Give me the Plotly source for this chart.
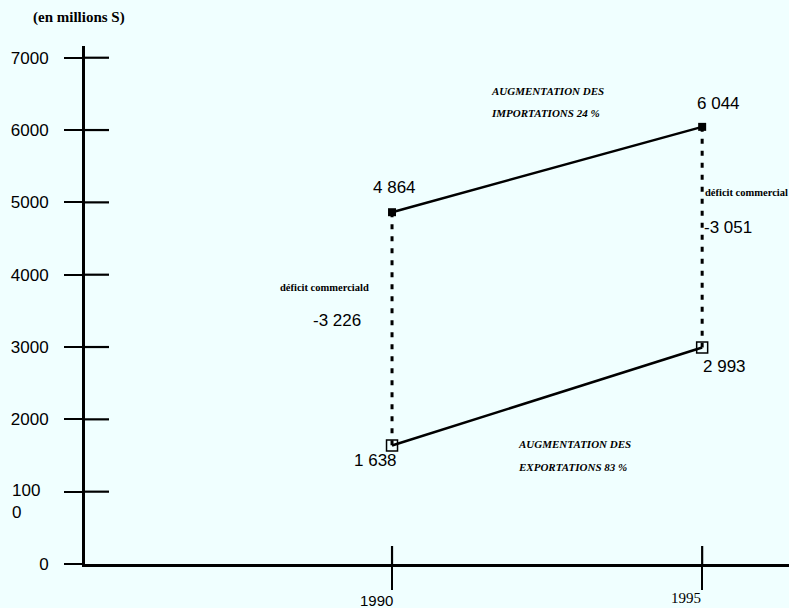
import plotly.graph_objects as go

# ---- data ----
years = [1990, 1995]
imports = [4864, 6044]
exports = [1638, 2993]
y_tick_vals = [0, 1000, 2000, 3000, 4000, 5000, 6000, 7000]
y_tick_text = ["0", "100<br>0", "2000", "3000", "4000", "5000", "6000", "7000"]
x_tick_vals = [1990, 1995]
x_tick_text = ["1990", "1995"]
import_note = ["AUGMENTATION DES", "IMPORTATIONS 24 %"]
export_note = ["AUGMENTATION DES", "EXPORTATIONS 83 %"]
unit_label = "(en millions S)"
deficit_labels = ["déficit commerciald", "déficit commercial"]


def fmt(v):
    s = f"{abs(v):,}".replace(",", " ")
    return ("-" if v < 0 else "") + s


BG = "#F0FFFF"
SANS = "Liberation Sans"
SERIF = "Liberation Serif"

fig = go.Figure()

# deficit connectors (dotted)
for yr, imp, exp in zip(years, imports, exports):
    fig.add_trace(go.Scatter(
        x=[yr, yr], y=[imp, exp], mode="lines",
        line=dict(color="black", width=3, dash="5px,7px"),
        hoverinfo="skip"))

# imports
fig.add_trace(go.Scatter(
    x=years, y=imports, mode="lines+markers",
    line=dict(color="black", width=2.5),
    marker=dict(symbol="square", size=8, color="black")))

# exports
fig.add_trace(go.Scatter(
    x=years, y=exports, mode="lines+markers",
    line=dict(color="black", width=2.5),
    marker=dict(symbol="square-open", size=11, color="black",
                line=dict(width=1.5, color="black"))))

# crossing ticks (inside part)
shapes = []
for v in y_tick_vals[1:]:
    shapes.append(dict(type="line", xref="paper", yref="y", x0=0, x1=24 / 704,
                       y0=v, y1=v, line=dict(color="black", width=2.2)))
for v in x_tick_vals:
    shapes.append(dict(type="line", xref="x", yref="paper", x0=v, x1=v,
                       y0=0, y1=18 / 518, line=dict(color="black", width=2.2)))

annotations = []
# x tick labels (mixed fonts as in the scanned original)
for v, t, fam, dy in zip(x_tick_vals, x_tick_text, [SANS, SERIF], [-36, -34]):
    annotations.append(dict(x=v, y=0, xref="x", yref="paper", text=t, showarrow=False,
                            xshift=-16, yshift=dy, yanchor="middle",
                            font=dict(family=fam, size=15, color="black")))

# value labels
val_shift = [(2, 25), (16, 23)]
for yr, v, (dx, dy) in zip(years, imports, val_shift):
    annotations.append(dict(x=yr, y=v, xref="x", yref="y", text=fmt(v), showarrow=False,
                            xshift=dx, yshift=dy, font=dict(family=SANS, size=17, color="black")))
exp_shift = [(-17, -15), (22, -19)]
for yr, v, (dx, dy) in zip(years, exports, exp_shift):
    annotations.append(dict(x=yr, y=v, xref="x", yref="y", text=fmt(v), showarrow=False,
                            xshift=dx, yshift=dy, font=dict(family=SANS, size=17, color="black")))

# deficits
deficits = [e - i for i, e in zip(imports, exports)]
annotations.append(dict(x=years[0], y=3360, xref="x", yref="y", text=fmt(deficits[0]),
                        showarrow=False, xshift=-55, font=dict(family=SANS, size=17, color="black")))
annotations.append(dict(x=years[1], y=4655, xref="x", yref="y", text=fmt(deficits[1]),
                        showarrow=False, xanchor="left", xshift=0,
                        font=dict(family=SANS, size=17, color="black")))
annotations.append(dict(x=years[0], y=3826, xref="x", yref="y", text="<b>" + deficit_labels[0] + "</b>",
                        showarrow=False, xshift=-68, font=dict(family=SERIF, size=10.5, color="black")))
annotations.append(dict(x=years[1], y=5138, xref="x", yref="y", text="<b>" + deficit_labels[1] + "</b>",
                        showarrow=False, xanchor="left", xshift=1,
                        font=dict(family=SERIF, size=10.5, color="black")))

# growth notes
for txt, yv in zip(import_note, [6540, 6235]):
    annotations.append(dict(x=1991.57, y=yv, xref="x", yref="y", text="<b><i>" + txt + "</i></b>",
                            showarrow=False, xanchor="left",
                            font=dict(family=SERIF, size=11, color="black")))
for txt, yv in zip(export_note, [1658, 1340]):
    annotations.append(dict(x=1992.0, y=yv, xref="x", yref="y", text="<b><i>" + txt + "</i></b>",
                            showarrow=False, xanchor="left",
                            font=dict(family=SERIF, size=11, color="black")))

# unit label
annotations.append(dict(x=(31 - 85) / 704, y=1 + (46 - 17) / 518, xref="paper", yref="paper",
                        text="<b>" + unit_label + "</b>",
                        showarrow=False, xanchor="left", yanchor="middle",
                        font=dict(family=SERIF, size=15, color="black")))

# split tick label for 1000
annotations.append(dict(x=(10 - 85) / 704, y=y_tick_vals[1], xref="paper", yref="y",
                        text=y_tick_text[1], showarrow=False, xanchor="left", align="left",
                        yanchor="middle", yshift=-10,
                        font=dict(family=SANS, size=17, color="black")))
shown_y_text = [t if "<br>" not in t else "" for t in y_tick_text]

fig.update_layout(
    template="none",
    width=789, height=608,
    margin=dict(l=85, r=0, t=46, b=44, pad=0),
    paper_bgcolor=BG, plot_bgcolor=BG,
    showlegend=False,
    shapes=shapes,
    annotations=annotations,
    xaxis=dict(range=[1985.05, 1996.40], tickvals=x_tick_vals, showticklabels=False,
               automargin=False,
               showgrid=False, zeroline=False, showline=True, linecolor="black", linewidth=3,
               ticks="outside", ticklen=23, tickwidth=2.2, tickcolor="black"),
    yaxis=dict(range=[0, 7162], tickvals=y_tick_vals, ticktext=shown_y_text,
               automargin=False,
               showgrid=False, zeroline=False, showline=True, linecolor="black", linewidth=3,
               ticks="outside", ticklen=18, tickwidth=2.2, tickcolor="black",
               ticklabelstandoff=12,
               tickfont=dict(family=SANS, size=17, color="black")),
)

fig.write_html(
    "out.html",
    config={"displayModeBar": False},
    post_script="document.body.style.margin='0';document.body.style.overflow='hidden';"
                "document.body.style.background='#F0FFFF';",
)
